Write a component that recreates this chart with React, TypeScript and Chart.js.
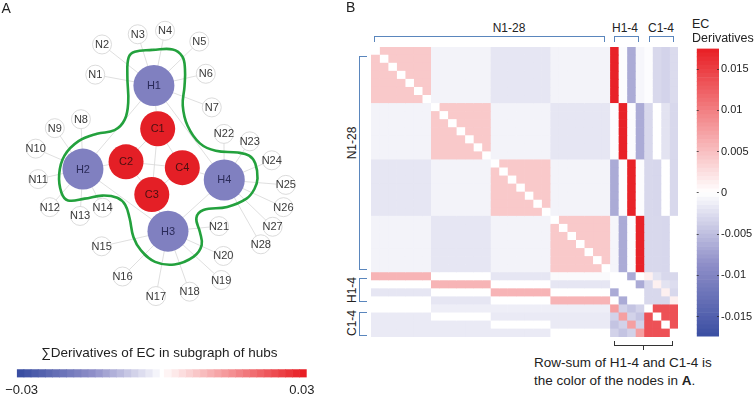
import React, { useEffect, useRef } from 'react';
import { Chart, registerables } from 'chart.js';
Chart.register(...registerables);

const FONT = '"Liberation Sans", Arial, Helvetica, sans-serif';
Chart.defaults.font.family = FONT;
Chart.defaults.color = '#222';

// ---------------- Panel A: network ----------------
const hubLabels = ['H1', 'H2', 'H3', 'H4'];
const hubXY = [[151.7, 74], [71, 169.3], [167.7, 240], [231.7, 181.7]];
const coreLabels = ['C1', 'C2', 'C3', 'C4'];
const coreXY = [[156, 123.3], [120, 161], [149.3, 198.3], [184, 167.7]];
const leafLabels = [
  'N1', 'N2', 'N3', 'N4', 'N5', 'N6', 'N7', 'N8', 'N9', 'N10', 'N11', 'N12', 'N13', 'N14',
  'N15', 'N16', 'N17', 'N18', 'N19', 'N20', 'N21', 'N22', 'N23', 'N24', 'N25', 'N26', 'N27', 'N28',
];
const leafXY = [
  [85, 61.7], [92.7, 27.3], [133.3, 15.7], [164.3, 11.7], [203.3, 24], [210.7, 60.7], [217.5, 99],
  [68.7, 112.5], [39, 122.7], [17.3, 146], [20, 180.7], [33.3, 212.7], [67.7, 222.7], [93.3, 213.3],
  [92.3, 257.3], [116, 291.7], [154, 314], [192.3, 309], [228.3, 295.7], [230.7, 268.3], [225.7, 234.3],
  [231.3, 129.2], [260.7, 137.7], [285.7, 159.3], [301.7, 187.3], [299, 212.7], [286.7, 235], [273.3, 255],
];
const leafHub = [0, 0, 0, 0, 0, 0, 0, 1, 1, 1, 1, 1, 1, 1, 2, 2, 2, 2, 2, 2, 2, 3, 3, 3, 3, 3, 3, 3];
const coreEdges = [
  ['H1', 'H2'], ['H1', 'H4'], ['H2', 'H3'], ['H3', 'H4'],
  ['H1', 'C1'], ['H2', 'C2'], ['H3', 'C3'], ['H4', 'C4'],
  ['C1', 'C2'], ['C1', 'C3'], ['C1', 'C4'], ['C2', 'C3'], ['C2', 'C4'], ['C3', 'C4'],
];
const contourXY = [
  [150, 33.5], [173, 33], [184, 41], [187, 55], [186.5, 75], [184.5, 97], [190, 120], [204, 140],
  [222, 148.5], [247, 150.5], [260, 154], [267, 163], [269.5, 180], [266, 192], [257, 203],
  [235, 212.5], [208, 216], [200, 225], [204, 241], [206, 256], [197, 269], [175, 278], [153, 275],
  [137, 262], [128.5, 247], [124, 225], [119, 210], [110, 202], [93, 199.5], [73, 203], [54, 205],
  [46.5, 196], [44, 175], [50, 154], [66, 137.5], [87, 129], [107, 125], [118.5, 113], [122.5, 93],
  [121.5, 63], [123, 42], [130, 35.5], [150, 33.5],
];

// bottom-left colour bar
const sumRange = [-0.03, 0.03];
const sumTickValues = [-0.029, 0.029];
const sumTickLabels = ['−0.03', '0.03'];
const sumTitle = '∑Derivatives of EC in subgraph of hubs';

// ---------------- Panel B: heat map ----------------
const rowLabels = [...leafLabels, ...hubLabels, ...coreLabels];
// block values [row group][column group]; N groups = N1-7, N8-14, N15-21, N22-28
const NN = [
  [0.0042, -0.0009, -0.0019, -0.0009],
  [-0.0009, 0.0042, -0.0009, -0.0019],
  [-0.0019, -0.0009, 0.0042, -0.0009],
  [-0.0009, -0.0019, -0.0009, 0.0042],
];
const NH = [
  [0.0172, -0.0002, -0.0065, -0.0007],
  [-0.0002, 0.0172, -0.0002, -0.0065],
  [-0.0065, -0.0002, 0.0172, -0.0002],
  [-0.0008, -0.0065, -0.0002, 0.0172],
];
const NC = [
  [-0.0002, -0.003, -0.0034, -0.0028],
  [-0.003, 0, -0.0022, -0.003],
  [-0.003, -0.0031, 0, -0.003],
  [-0.003, -0.003, -0.0031, 0],
];
const HN = [
  [0.0058, 0, -0.0019, -0.0004],
  [0, 0.0058, 0, -0.0019],
  [-0.0019, 0, 0.0058, 0],
  [0, -0.0019, 0, 0.0058],
];
const HH = [
  [0, 0, -0.0065, 0],
  [0, 0, 0, -0.0065],
  [-0.0065, 0, 0, 0],
  [0, -0.0065, 0, 0],
];
const HC = [
  [0.0012, -0.0022, -0.003, -0.003],
  [-0.003, 0.0012, -0.0022, -0.0026],
  [-0.003, -0.003, 0.0012, -0.003],
  [-0.003, -0.003, -0.003, 0.0012],
];
const CN = [
  [0, -0.0013, -0.0013, -0.0013],
  [-0.0016, 0, -0.0016, -0.0016],
  [-0.0016, -0.0016, 0, -0.0016],
  [-0.0016, -0.0016, -0.0016, 0],
];
const CH = [
  [0.0075, -0.0035, -0.0046, -0.0035],
  [-0.0035, 0.0075, -0.0035, -0.0046],
  [-0.0046, -0.0035, 0.0075, -0.0035],
  [-0.0035, -0.0046, -0.0035, 0.0075],
];
const CC = [
  [0, 0.0135, 0.0135, 0.0135],
  [0.0135, 0, 0.0135, 0.0135],
  [0.0135, 0.0135, 0, 0.0135],
  [0.0135, 0.0135, 0.0135, 0],
];
const blocks: Record<string, number[][]> = { NN, NH, NC, HN, HH, HC, CN, CH, CC };

const ecRange = [-0.0174, 0.0175];
const ecTickValues = [0.015, 0.01, 0.005, 0, -0.005, -0.01, -0.015];
const ecTickLabels = ['0.015', '0.01', '0.005', '0', '-0.005', '-0.01', '-0.015'];

// ---------------- colour map ----------------
const WHITE = [255, 255, 255];
const RED = [232, 30, 36];
const LAV = [142, 142, 200];
const BLUE = [58, 78, 162];
function mix(a: number[], b: number[], t: number) {
  return a.map((v, i) => Math.round(v + (b[i] - v) * t));
}
function ecColor(v: number, vmax: number) {
  const t = Math.min(1, Math.abs(v) / vmax);
  let c: number[];
  if (v >= 0) c = mix(WHITE, RED, t);
  else c = t < 0.5 ? mix(WHITE, LAV, t / 0.5) : mix(LAV, BLUE, (t - 0.5) / 0.5);
  return `rgb(${c[0]},${c[1]},${c[2]})`;
}

function groupOf(i: number): [string, number] {
  if (i < 28) return ['N', Math.floor(i / 7)];
  if (i < 32) return ['H', i - 28];
  return ['C', i - 32];
}
function cellValue(r: number, c: number) {
  if (r === c) return 0;
  const [rt, rk] = groupOf(r);
  const [ct, ck] = groupOf(c);
  return blocks[rt + ct][rk][ck];
}

// ---------------- chart configs ----------------
const nodeLabelPlugin = {
  id: 'nodeLabels',
  afterDatasetsDraw(chart: any) {
    const ctx = chart.ctx;
    chart.data.datasets.forEach((ds: any, i: number) => {
      if (!ds.nodeLabels) return;
      const meta = chart.getDatasetMeta(i);
      meta.data.forEach((el: any, j: number) => {
        ctx.save();
        ctx.font = `11px ${FONT}`;
        ctx.fillStyle = ds.labelColor;
        ctx.textAlign = 'center';
        ctx.textBaseline = 'middle';
        ctx.fillText(ds.nodeLabels[j], el.x, el.y + 0.5);
        ctx.restore();
      });
    });
  },
};

function networkConfig(): any {
  const pos: Record<string, number[]> = {};
  hubLabels.forEach((n, i) => (pos[n] = hubXY[i]));
  coreLabels.forEach((n, i) => (pos[n] = coreXY[i]));
  leafLabels.forEach((n, i) => (pos[n] = leafXY[i]));
  const pt = (n: string) => ({ x: pos[n][0], y: pos[n][1] });
  const edges = [
    ...leafLabels.map((n, i) => [n, hubLabels[leafHub[i]]]),
    ...coreEdges,
  ];
  const edgeSets = edges.map(([a, b]) => ({
    data: [pt(a), pt(b)],
    showLine: true,
    pointRadius: 0,
    borderColor: '#d7d7d7',
    borderWidth: 0.8,
    order: 2,
    clip: false,
  }));
  return {
    type: 'scatter',
    data: {
      datasets: [
        {
          data: leafLabels.map(pt),
          nodeLabels: leafLabels,
          labelColor: '#3a3a3a',
          pointRadius: 9.5,
          pointBackgroundColor: '#ffffff',
          pointBorderColor: '#d2d2d2',
          pointBorderWidth: 0.8,
          order: 0,
          clip: false,
        },
        {
          data: hubLabels.map(pt),
          nodeLabels: hubLabels,
          labelColor: '#2a2a58',
          pointRadius: 20.5,
          pointBackgroundColor: '#8080c0',
          pointBorderColor: '#8080c0',
          pointBorderWidth: 0,
          order: 0,
        },
        {
          data: coreLabels.map(pt),
          nodeLabels: coreLabels,
          labelColor: '#4a1010',
          pointRadius: 17.5,
          pointBackgroundColor: '#e41f26',
          pointBorderColor: '#e41f26',
          pointBorderWidth: 0,
          order: 0,
        },
        {
          data: contourXY.map(([x, y]) => ({ x, y })),
          showLine: true,
          pointRadius: 0,
          borderColor: '#23a13d',
          borderWidth: 2.6,
          tension: 0.4,
          order: 1,
          clip: false,
        },
        ...edgeSets,
      ],
    },
    options: {
      responsive: false,
      animation: false,
      events: [],
      layout: { padding: 0 },
      plugins: { legend: { display: false }, tooltip: { enabled: false } },
      scales: {
        x: { type: 'linear', min: 0, max: 340, display: false },
        y: { type: 'linear', min: 0, max: 335, reverse: true, display: false },
      },
    },
    plugins: [nodeLabelPlugin],
  };
}

function sumBarConfig(): any {
  const n = 20;
  const w = (sumRange[1] - 0.0005) / n;
  const segs: any[] = [];
  for (let k = 0; k < n; k++) {
    const a = sumRange[0] + k * w;
    segs.push({ a, b: a + w, color: ecColor(-((n - k) / n) * 0.03, 0.03) });
  }
  for (let k = 0; k < n; k++) {
    const a = 0.0005 + k * w;
    segs.push({ a, b: a + w, color: ecColor(((k + 1) / n) * 0.03, 0.03) });
  }
  return {
    type: 'bar',
    data: {
      labels: ['sum'],
      datasets: segs.map((s) => ({
        data: [[s.a, s.b]],
        backgroundColor: s.color,
        borderWidth: 0,
        grouped: false,
        barPercentage: 1,
        categoryPercentage: 1,
      })),
    },
    options: {
      indexAxis: 'y',
      responsive: false,
      animation: false,
      events: [],
      layout: { padding: { left: 12, right: 23.3, top: 0, bottom: 0 } },
      plugins: {
        legend: { display: false },
        tooltip: { enabled: false },
        title: {
          display: true,
          text: sumTitle,
          color: '#222',
          font: { size: 13.5, weight: 'normal' },
          padding: { top: 5, bottom: 8 },
        },
      },
      scales: {
        y: { display: false },
        x: {
          type: 'linear',
          min: sumRange[0],
          max: sumRange[1],
          grid: { display: false, drawTicks: false },
          border: { display: false },
          afterBuildTicks: (s: any) => {
            s.ticks = sumTickValues.map((v) => ({ value: v }));
          },
          ticks: {
            color: '#222',
            font: { size: 13 },
            padding: 5,
            autoSkip: false,
            maxRotation: 0,
            callback: (v: number) => sumTickLabels[sumTickValues.indexOf(v)] ?? '',
          },
        },
      },
    },
  };
}

function heatmapConfig(): any {
  return {
    type: 'bar',
    data: {
      labels: rowLabels,
      datasets: rowLabels.map((name, c) => ({
        label: name,
        data: rowLabels.map(() => 1),
        backgroundColor: rowLabels.map((_, r) => ecColor(cellValue(r, c), 0.0175)),
        borderWidth: 0,
        barPercentage: 1,
        categoryPercentage: 1,
      })),
    },
    options: {
      indexAxis: 'y',
      responsive: false,
      animation: false,
      events: [],
      layout: { padding: 0 },
      plugins: { legend: { display: false }, tooltip: { enabled: false } },
      scales: {
        x: { stacked: true, min: 0, max: rowLabels.length, display: false },
        y: { stacked: true, display: false },
      },
    },
  };
}

function ecBarConfig(): any {
  const step = 0.0005;
  const segs: number[][] = [];
  for (let a = -0.0175; a < 0.0175 - 1e-9; a += step) segs.push([a, a + step]);
  return {
    type: 'bar',
    data: {
      labels: ['EC'],
      datasets: segs.map(([a, b]) => ({
        data: [[a, b]],
        backgroundColor: ecColor((a + b) / 2, 0.0175),
        borderWidth: 0,
        grouped: false,
        barPercentage: 1,
        categoryPercentage: 1,
      })),
    },
    options: {
      responsive: false,
      animation: false,
      events: [],
      layout: { padding: { left: 6.7, top: 7.7, bottom: 7.3, right: 0 } },
      plugins: { legend: { display: false }, tooltip: { enabled: false } },
      scales: {
        x: { display: false },
        y: {
          type: 'linear',
          position: 'right',
          min: ecRange[0],
          max: ecRange[1],
          afterBuildTicks: (s: any) => {
            s.ticks = ecTickValues.map((v) => ({ value: v }));
          },
          afterFit: (s: any) => {
            s.width = 35;
          },
          grid: { drawTicks: false, color: 'rgba(40,40,40,0.75)', lineWidth: 1, z: 1 },
          border: { display: false, dash: [2, 18.3] },
          ticks: {
            color: '#222',
            font: { size: 11 },
            padding: 2,
            callback: (v: number) => ecTickLabels[ecTickValues.indexOf(v)] ?? '',
          },
        },
      },
    },
  };
}

// ---------------- components ----------------
function ChartCanvas({ left, top, width, height, make }: any) {
  const ref = useRef<HTMLCanvasElement>(null);
  useEffect(() => {
    const chart = new Chart(ref.current as HTMLCanvasElement, make());
    return () => chart.destroy();
  }, []);
  return (
    <canvas
      ref={ref}
      width={width}
      height={height}
      style={{ position: 'absolute', left, top, width, height }}
    />
  );
}

function Txt({ x, y, children, size = 12, center = false, rotate = false, color = '#222' }: any) {
  const tx = center || rotate ? '-50%' : '0';
  return (
    <div
      style={{
        position: 'absolute',
        left: x,
        top: y,
        transform: `translate(${tx},-50%)${rotate ? ' rotate(-90deg)' : ''}`,
        fontFamily: FONT,
        fontSize: size,
        lineHeight: 1,
        whiteSpace: 'nowrap',
        color,
      }}
    >
      {children}
    </div>
  );
}

function Bracket({ left, top, width, height, sides, color = '#5a86bd' }: any) {
  const b = `1px solid ${color}`;
  return (
    <div
      style={{
        position: 'absolute',
        left,
        top,
        width,
        height,
        boxSizing: 'border-box',
        borderTop: sides.includes('t') ? b : 'none',
        borderBottom: sides.includes('b') ? b : 'none',
        borderLeft: sides.includes('l') ? b : 'none',
        borderRight: sides.includes('r') ? b : 'none',
      }}
    />
  );
}

export default function App() {
  return (
    <div
      style={{
        position: 'fixed',
        left: 0,
        top: 0,
        width: 754,
        height: 401,
        background: '#ffffff',
        overflow: 'hidden',
      }}
    >
      <ChartCanvas left={0} top={0} width={340} height={335} make={networkConfig} />
      <ChartCanvas left={0} top={340} width={330} height={63} make={sumBarConfig} />
      <ChartCanvas left={370.7} top={47} width={307.3} height={290} make={heatmapConfig} />
      <ChartCanvas left={690} top={40} width={64} height={305} make={ecBarConfig} />

      <Txt x={1.5} y={8} size={14}>A</Txt>
      <Txt x={346} y={7} size={14}>B</Txt>

      <Txt x={509} y={28.3} center>N1-28</Txt>
      <Txt x={625} y={28.3} center>H1-4</Txt>
      <Txt x={661} y={28.3} center>C1-4</Txt>
      <Bracket left={374} top={35.5} width={231} height={6.5} sides="tlr" />
      <Bracket left={614} top={35.5} width={24.5} height={6.5} sides="tlr" />
      <Bracket left={649} top={35.5} width={24.5} height={6.5} sides="tlr" />

      <Txt x={351.5} y={143} rotate>N1-28</Txt>
      <Txt x={351.5} y={290} rotate>H1-4</Txt>
      <Txt x={351.5} y={323} rotate>C1-4</Txt>
      <Bracket left={359} top={55.5} width={8} height={214} sides="tlb" />
      <Bracket left={359} top={278} width={8} height={24} sides="tlb" />
      <Bracket left={359} top={311.5} width={8} height={24.5} sides="tlb" />

      <Txt x={692} y={23.5} size={12.5}>EC</Txt>
      <Txt x={692} y={38} size={12.5}>Derivatives</Txt>

      <Bracket left={614} top={340.5} width={59} height={5} sides="lrb" color="#333" />
      <Bracket left={643} top={345} width={1} height={4.5} sides="l" color="#333" />
      <Txt x={534} y={363.3} size={13.5}>Row-sum of H1-4 and C1-4 is</Txt>
      <Txt x={534} y={380.8} size={13.5}>
        the color of the nodes in <b>A</b>.
      </Txt>
    </div>
  );
}
